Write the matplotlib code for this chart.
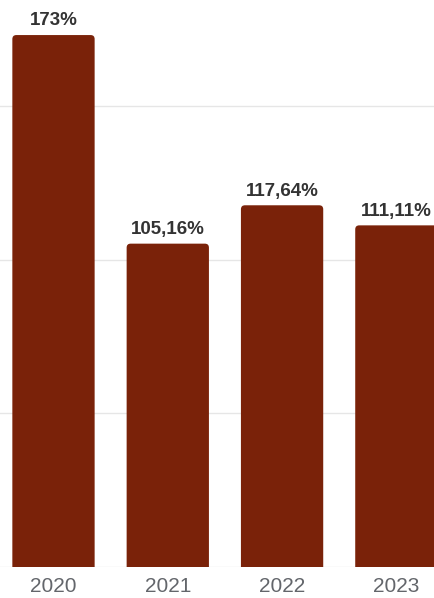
import matplotlib.pyplot as plt
from matplotlib.patches import FancyBboxPatch

# Datos
anios = ['2020', '2021', '2022', '2023']
valores = [173, 105.16, 117.64, 111.11]
etiquetas = [f"{v:g}".replace('.', ',') + '%' for v in valores]

color_barra = '#7a2209'
ancho = 0.72

fig = plt.figure(figsize=(4.35, 5.98), dpi=100)
ax = fig.add_axes([0, 31 / 598, 1, 567 / 598])
ax.set_xlim(-0.468, 3.338)
ax.set_ylim(0, 184.4)

barras = ax.bar(range(len(anios)), valores, width=ancho, color=color_barra, zorder=2)

# Esquinas superiores redondeadas: se cambia cada barra por un FancyBboxPatch
# (se alarga por debajo de 0 para que el recorte deje rectas las de abajo)
aspecto = (184.4 / 567) / (3.806 / 435)
radio = 4 * 3.806 / 435
for b in barras:
    extra = radio * aspecto
    p = FancyBboxPatch((b.get_x(), -extra), b.get_width(), b.get_height() + extra,
                       boxstyle=f"round,pad=0,rounding_size={radio}",
                       mutation_aspect=aspecto, facecolor=color_barra,
                       edgecolor='none', zorder=2)
    ax.add_patch(p)
    b.set_visible(False)

for b, txt in zip(barras, etiquetas):
    ax.annotate(txt, (b.get_x() + b.get_width() / 2, b.get_height()),
                xytext=(0, 4), textcoords='offset points',
                ha='center', va='bottom', fontsize=13.5, fontweight='bold',
                color='#333333', family='Liberation Sans')

ax.set_yticks([0, 50, 100, 150])
ax.yaxis.grid(True, color='#e6e6e6', linewidth=1, zorder=0)
ax.set_yticklabels([])
ax.tick_params(axis='y', length=0)
ax.set_xticks(range(len(anios)))
ax.set_xticklabels(anios, fontsize=15, color='#63666b', family='Liberation Sans')
ax.tick_params(axis='x', length=0, pad=7)
for s in ax.spines.values():
    s.set_visible(False)

fig.savefig('out.png', dpi=100)
